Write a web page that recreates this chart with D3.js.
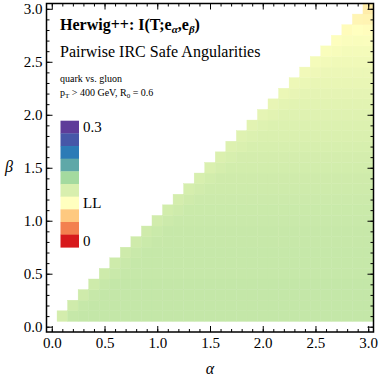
<!DOCTYPE html>
<html>
<head>
<meta charset="utf-8">
<script src="https://cdn.jsdelivr.net/npm/d3@7"></script>
<style>
body { margin: 0; background: #fff; }
svg { display: block; }
</style>
</head>
<body>
<svg width="382" height="382"></svg>
<script>
// alpha / beta grid (cell centres)
var alphas = [0.1,0.2,0.3,0.4,0.5,0.6,0.7,0.8,0.9,1.0,1.1,1.2,1.3,1.4,1.5,1.6,1.7,1.8,1.9,2.0,2.1,2.2,2.3,2.4,2.5,2.6,2.7,2.8,2.9,3.0];
var betas  = [0.1,0.2,0.3,0.4,0.5,0.6,0.7,0.8,0.9,1.0,1.1,1.2,1.3,1.4,1.5,1.6,1.7,1.8,1.9,2.0,2.1,2.2,2.3,2.4,2.5,2.6,2.7,2.8,2.9,3.0];

// mutual information (x1000), row i = betas[i], starting at alpha = betas[i]
var miRows = [
  [136,145,146,146,146,146,146,146,146,146, 146,146,146,146,146,146,146,146,146,146, 146,146,146,146,146,146,146,146,146,146],
  [139,145,146,146,146,146,146,146,146,146, 146,146,146,146,146,146,146,146,146,146, 146,146,146,146,146,146,146,146,146],
  [139,144,146,146,146,146,146,146,146,146, 146,146,146,146,146,146,146,146,146,146, 146,146,146,146,146,146,146,146],
  [140,144,146,146,146,146,146,146,146,146, 146,146,146,146,146,146,146,146,146,146, 146,146,146,146,146,146,146],
  [140,143,145,145,145,145,145,145,145,145, 145,145,145,145,145,145,145,145,145,145, 145,145,145,145,145,145],
  [140,143,145,145,145,145,145,145,145,145, 145,145,145,145,145,145,145,145,145,145, 145,145,145,145,145],
  [140,143,145,145,145,145,145,145,145,145, 145,145,145,145,145,145,145,145,145,145, 145,145,145,145],
  [139,142,144,144,144,144,144,144,144,144, 144,144,144,144,144,144,144,144,144,144, 144,144,144],
  [139,142,144,144,144,144,144,144,144,144, 144,144,144,144,144,144,144,144,144,144, 144,144],
  [138,141,143,143,143,143,143,143,143,143, 143,143,143,143,143,143,143,143,143,143, 143],
  [137,140,142,142,142,142,142,142,142,142, 142,142,142,142,142,142,142,142,142,142],
  [136,139,141,141,141,141,141,141,141,141, 141,141,141,141,141,141,141,141,141],
  [135,138,140,140,140,140,140,140,140,140, 140,140,140,140,140,140,140,140],
  [134,137,139,139,139,139,139,139,139,139, 139,139,139,139,139,139,139],
  [132,135,137,137,137,137,137,137,137,137, 137,137,137,137,137,137],
  [131,134,136,136,136,136,136,136,136,136, 136,136,136,136,136],
  [129,132,134,134,134,134,134,134,134,134, 134,134,134,134],
  [127,130,132,132,132,132,132,132,132,132, 132,132,132],
  [125,128,130,130,130,130,130,130,130,130, 130,130],
  [122,125,127,127,127,127,127,127,127,127, 127],
  [120,123,125,125,125,125,125,125,125,125],
  [117,120,122,122,122,122,122,122,122],
  [115,117,119,119,119,119,119,119],
  [112,114,116,116,116,116,116],
  [109,111,113,113,113,113],
  [105,107,109,109,109],
  [102,104,105,104],
  [98,100,99],
  [94,93],
  [89]
];

// legend
var legendValues = [0.3000,0.2667,0.2333,0.2000,0.1667,0.1333,0.1000,0.0667,0.0333,0.0000];
var legendColors = ["#5e3c99","#4657a8","#2c7bb6","#5fa8a8","#a4da9f","#d8efae","#ffffbf","#fec980","#f3804f","#d7191c"];
var legendLabels = {0: "0.3", 6: "LL", 9: "0"};

var majorTicks = [0,0.5,1,1.5,2,2.5,3];
var minorTicks = d3.range(0, 3.05, 0.1);

var font = "'Liberation Serif', 'Times New Roman', serif";

var svg = d3.select("svg"),
    frame = {left: 46.5, right: 373.5, top: 3.5, bottom: 332};

var x = d3.scaleLinear().domain([-0.05, 3.05]).range([frame.left, frame.right]),
    y = d3.scaleLinear().domain([-0.05, 3.05]).range([frame.bottom, frame.top]);

var color = d3.scaleLinear().domain(legendValues).range(legendColors);

// flatten rows into cells
var cells = [];
miRows.forEach(function(row, i) {
    row.forEach(function(v, j) {
        cells.push({a: alphas[i + j], b: betas[i], v: v / 1000});
    });
});

svg.append("g")
    .selectAll("rect")
    .data(cells)
    .enter().append("rect")
        .attr("x", function(d) { return x(d.a - 0.05); })
        .attr("y", function(d) { return y(d.b + 0.05); })
        .attr("width", function(d) { return x(d.a + 0.05) - x(d.a - 0.05); })
        .attr("height", function(d) { return y(d.b - 0.05) - y(d.b + 0.05); })
        .attr("fill", function(d) { return color(d.v); })
        .attr("stroke", function(d) { return color(d.v); })
        .attr("stroke-width", 0.4);

// axes: major + minor ticks on all four sides, pointing inward
function styleAxis(g) {
    g.select(".domain").remove();
    g.selectAll("line").attr("stroke", "#000").attr("stroke-width", 1);
    g.selectAll("text").style("font-family", font).style("font-size", "15px").attr("fill", "#000");
}

svg.append("g").attr("transform", "translate(0," + frame.bottom + ")")
    .call(d3.axisBottom(x).tickValues(majorTicks).tickFormat(d3.format(".1f")).tickSizeInner(-6).tickSizeOuter(0).tickPadding(5))
    .call(styleAxis);
svg.append("g").attr("transform", "translate(0," + frame.bottom + ")")
    .call(d3.axisBottom(x).tickValues(minorTicks).tickFormat("").tickSizeInner(-3).tickSizeOuter(0))
    .call(styleAxis);
svg.append("g").attr("transform", "translate(0," + frame.top + ")")
    .call(d3.axisTop(x).tickValues(majorTicks).tickFormat("").tickSizeInner(-6).tickSizeOuter(0))
    .call(styleAxis);
svg.append("g").attr("transform", "translate(0," + frame.top + ")")
    .call(d3.axisTop(x).tickValues(minorTicks).tickFormat("").tickSizeInner(-3).tickSizeOuter(0))
    .call(styleAxis);

svg.append("g").attr("transform", "translate(" + frame.left + ",0)")
    .call(d3.axisLeft(y).tickValues(majorTicks).tickFormat(d3.format(".1f")).tickSizeInner(-6).tickSizeOuter(0).tickPadding(4))
    .call(styleAxis);
svg.append("g").attr("transform", "translate(" + frame.left + ",0)")
    .call(d3.axisLeft(y).tickValues(minorTicks).tickFormat("").tickSizeInner(-3).tickSizeOuter(0))
    .call(styleAxis);
svg.append("g").attr("transform", "translate(" + frame.right + ",0)")
    .call(d3.axisRight(y).tickValues(majorTicks).tickFormat("").tickSizeInner(-6).tickSizeOuter(0))
    .call(styleAxis);
svg.append("g").attr("transform", "translate(" + frame.right + ",0)")
    .call(d3.axisRight(y).tickValues(minorTicks).tickFormat("").tickSizeInner(-3).tickSizeOuter(0))
    .call(styleAxis);

svg.append("rect")
    .attr("x", frame.left)
    .attr("y", frame.top)
    .attr("width", frame.right - frame.left)
    .attr("height", frame.bottom - frame.top)
    .attr("fill", "none")
    .attr("stroke", "#000")
    .attr("stroke-width", 1.5);

// axis titles
svg.append("text")
    .attr("x", (frame.left + frame.right) / 2)
    .attr("y", 374)
    .attr("text-anchor", "middle")
    .style("font-family", font)
    .style("font-size", "16px")
    .style("font-style", "italic")
    .text("α");

svg.append("text")
    .attr("x", 9)
    .attr("y", 172)
    .attr("text-anchor", "middle")
    .style("font-family", font)
    .style("font-size", "16px")
    .style("font-style", "italic")
    .text("β");

// titles
var t1 = svg.append("text")
    .attr("x", 60)
    .attr("y", 30)
    .style("font-family", font)
    .style("font-size", "16px")
    .style("font-weight", "bold");
t1.append("tspan").text("Herwig++: I(T;e");
t1.append("tspan").attr("dy", 3).style("font-size", "11px").style("font-style", "italic").text("α");
t1.append("tspan").attr("dy", -3).text(",e");
t1.append("tspan").attr("dy", 3).style("font-size", "11px").style("font-style", "italic").text("β");
t1.append("tspan").attr("dy", -3).text(")");

svg.append("text")
    .attr("x", 60)
    .attr("y", 57)
    .style("font-family", font)
    .style("font-size", "16px")
    .text("Pairwise IRC Safe Angularities");

svg.append("text")
    .attr("x", 60)
    .attr("y", 82)
    .style("font-family", font)
    .style("font-size", "10px")
    .text("quark vs. gluon");

var t4 = svg.append("text")
    .attr("x", 60)
    .attr("y", 96)
    .style("font-family", font)
    .style("font-size", "10px");
t4.append("tspan").text("p");
t4.append("tspan").attr("dy", 2).style("font-size", "7px").text("T");
t4.append("tspan").attr("dy", -2).text(" > 400 GeV, R");
t4.append("tspan").attr("dy", 2).style("font-size", "7px").text("0");
t4.append("tspan").attr("dy", -2).text(" = 0.6");

// legend
var ly = d3.scaleBand().domain(d3.range(legendColors.length)).range([120.7, 247.3]);

var legend = svg.append("g");
legend.selectAll("rect")
    .data(legendColors)
    .enter().append("rect")
        .attr("x", 60.5)
        .attr("y", function(d, i) { return ly(i); })
        .attr("width", 18.5)
        .attr("height", ly.bandwidth() + 0.3)
        .attr("fill", function(d) { return d; });

legend.selectAll("text")
    .data(Object.keys(legendLabels))
    .enter().append("text")
        .attr("x", 83)
        .attr("y", function(k) { return ly(+k) + ly.bandwidth() / 2; })
        .attr("dy", "0.35em")
        .style("font-family", font)
        .style("font-size", "15px")
        .text(function(k) { return legendLabels[k]; });
</script>
</body>
</html>
